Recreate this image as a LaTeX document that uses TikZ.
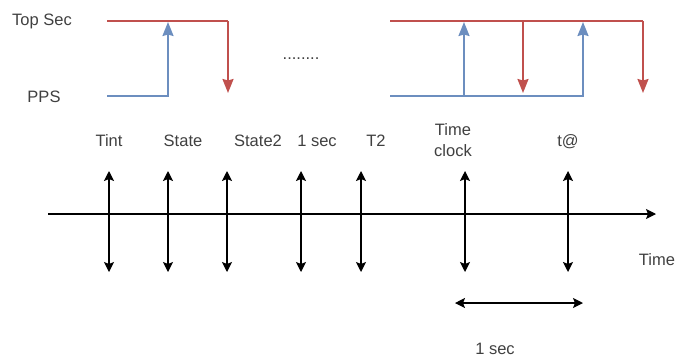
\documentclass[tikz,border=0pt]{standalone}
\usepackage{fontspec}
\setmainfont{Liberation Sans}
\usetikzlibrary{arrows.meta}
\definecolor{sigred}{HTML}{C0504D}
\definecolor{sigblue}{HTML}{6C8EBF}

\begin{document}
\begin{tikzpicture}[x=1pt,y=-1pt,
  every node/.style={font=\fontsize{16.5}{21}\selectfont,text=black!75,inner sep=0pt},
  lbl/.style={anchor=base},
  redline/.style={draw=sigred,line width=2pt},
  blueline/.style={draw=sigblue,line width=2pt},
  sigtip/.style={-{Stealth[length=14pt,width=11pt,inset=1.5pt]}},
  axisline/.style={draw=black,line width=1.3pt},
  mark2/.style={{Stealth[length=10pt,width=10pt,inset=2pt]}-{Stealth[length=10pt,width=10pt,inset=2pt]}}]
\useasboundingbox (0,0) rectangle (676,357);

% signal names
\node (topsec) at (42,21) {Top Sec};
\node (pps) at (44,97) {PPS};
\node[lbl] (dots) at (301,59) {........};

% left pulse
\coordinate (r0) at (107,21);
\coordinate (r1) at (228,21);
\coordinate (r2) at (228,93);
\coordinate (b0) at (107,96);
\coordinate (b1) at (168,96);
\coordinate (b2) at (168,22);

% right pulses
\coordinate (r3) at (390,21);
\coordinate (r4) at (643,21);
\coordinate (r5) at (643,93);
\coordinate (r6) at (523,21);
\coordinate (r7) at (523,93);
\coordinate (b3) at (390,96);
\coordinate (b4) at (583,96);
\coordinate (b5) at (583,22);
\coordinate (b6) at (464,96);
\coordinate (b7) at (464,22);

\draw[redline] (r0) -- (r1);
\draw[redline,sigtip] (r1) -- (r2);
\draw[blueline,sigtip] (b0) -- (b1) -- (b2);
\draw[redline] (r3) -- (r4);
\draw[redline,sigtip] (r4) -- (r5);
\draw[redline,sigtip] (r6) -- (r7);
\draw[blueline,sigtip] (b3) -- (b4) -- (b5);
\draw[blueline,sigtip] (b6) -- (b7);

% event labels
\node[lbl] (tint) at (109,146) {Tint};
\node[lbl] (state) at (183,146) {State};
\node[lbl] (state2) at (258,146) {State2};
\node[lbl] (onesec) at (317,146) {1 sec};
\node[lbl] (t2) at (376,146) {T2};
\node[align=center] (tclock) at (453,140) {Time\\clock};
\node[lbl] (tat) at (568,146) {t@};
\node[lbl] (time) at (657,265) {Time};
\node[lbl] (period) at (495,354) {1 sec};

% time axis
\coordinate (ax0) at (48,214);
\coordinate (ax1) at (656,214);
\draw[axisline,-{Stealth[length=10pt,width=10pt,inset=2pt]}] (ax0) -- (ax1);

\coordinate (tintT) at (109,171);
\coordinate (tintB) at (109,272);
\coordinate (stateT) at (168,171);
\coordinate (stateB) at (168,272);
\coordinate (state2T) at (227,171);
\coordinate (state2B) at (227,272);
\coordinate (onesecT) at (301,171);
\coordinate (onesecB) at (301,272);
\coordinate (t2T) at (361,171);
\coordinate (t2B) at (361,272);
\coordinate (tclockT) at (465,171);
\coordinate (tclockB) at (465,272);
\coordinate (tatT) at (568,171);
\coordinate (tatB) at (568,272);

\draw[axisline,mark2] (tintT) -- (tintB);
\draw[axisline,mark2] (stateT) -- (stateB);
\draw[axisline,mark2] (state2T) -- (state2B);
\draw[axisline,mark2] (onesecT) -- (onesecB);
\draw[axisline,mark2] (t2T) -- (t2B);
\draw[axisline,mark2] (tclockT) -- (tclockB);
\draw[axisline,mark2] (tatT) -- (tatB);

% one second span
\coordinate (sp0) at (455,303);
\coordinate (sp1) at (583,303);
\draw[axisline,mark2] (sp0) -- (sp1);
\end{tikzpicture}
\end{document}
